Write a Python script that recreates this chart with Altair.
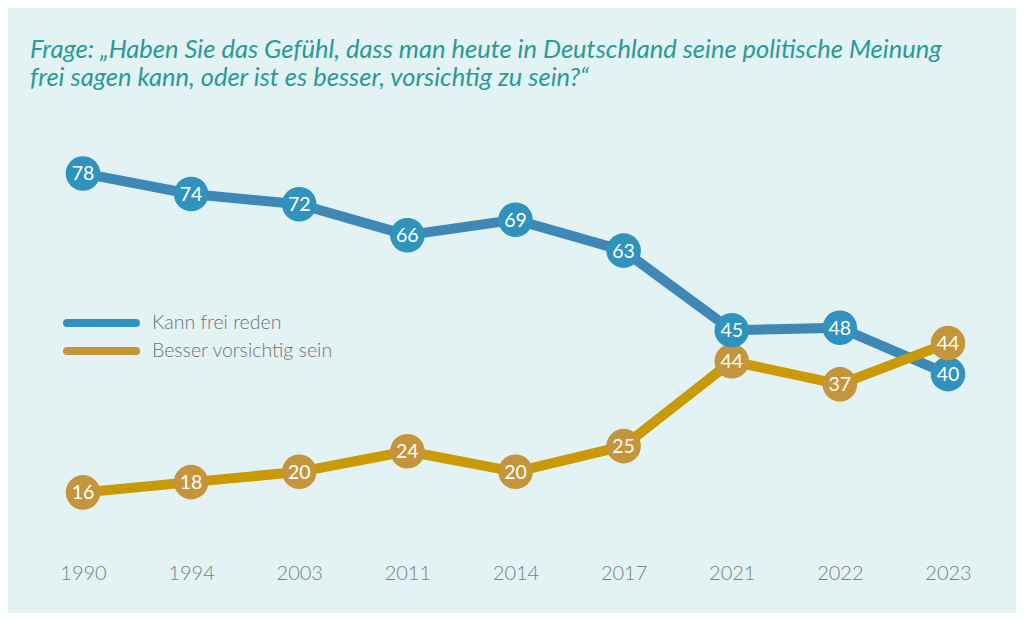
import altair as alt
import pandas as pd

years = ["1990", "1994", "2003", "2011", "2014", "2017", "2021", "2022", "2023"]
kann_frei = [78, 74, 72, 66, 69, 63, 45, 48, 40]
vorsichtig = [16, 18, 20, 24, 20, 25, 44, 37, 44]
series_names = ["Kann frei reden", "Besser vorsichtig sein"]
title_lines = [
    "Frage: „Haben Sie das Gefühl, dass man heute in Deutschland seine politische Meinung",
    "frei sagen kann, oder ist es besser, vorsichtig zu sein?“",
]

line_colors = ["#3f87b4", "#c99a06"]
dot_colors = ["#2f93bd", "#c4953a"]

# layout constants
Y_MIN, Y_MAX = 5, 81
H = 391
W = 865
px_per_unit = H / (Y_MAX - Y_MIN)
MIN_GAP_PX = 31  # minimum vertical gap between overlapping markers

rows = []
for i, yr in enumerate(years):
    a, b = kann_frei[i], vorsichtig[i]
    gap_px = abs(a - b) * px_per_unit
    shift = max(0.0, (MIN_GAP_PX - gap_px) / 2) / px_per_unit
    hi_a = a >= b
    da = a + (shift if hi_a else -shift)
    db = b + (-shift if hi_a else shift)
    rows.append({"year": yr, "series": series_names[0], "value": a, "disp": da})
    rows.append({"year": yr, "series": series_names[1], "value": b, "disp": db})
df = pd.DataFrame(rows)

x_enc = alt.X("year:N", sort=years, scale=alt.Scale(type="point", padding=0),
              axis=alt.Axis(title=None, labelAngle=0, domain=False, ticks=False, grid=False,
                            labelFont="Lato", labelFontSize=20, labelFontWeight=300,
                            labelColor="#7b8286", labelPadding=14))
y_enc = alt.Y("disp:Q", scale=alt.Scale(domain=[Y_MIN, Y_MAX], nice=False, zero=False), axis=None)

base = alt.Chart(df)

lines = base.mark_line(strokeWidth=10, strokeJoin="round", strokeCap="round").encode(
    x=x_enc, y=y_enc,
    color=alt.Color("series:N", scale=alt.Scale(domain=series_names, range=line_colors), legend=None),
    detail="series:N",
)

dots = base.mark_circle(size=1195, opacity=1).encode(
    x=x_enc, y=y_enc,
    color=alt.Color("series:N", scale=alt.Scale(domain=series_names, range=dot_colors), legend=None),
    order=alt.Order("disp:Q", sort="ascending"),
)

labels = base.mark_text(color="white", font="Lato", fontSize=19.5, fontWeight="normal",
                        baseline="middle", align="center", dy=1).encode(
    x=x_enc, y=y_enc, text="value:Q",
)

main = alt.layer(lines, dots, labels).resolve_scale(color="independent")

leg_df = pd.DataFrame({"series": series_names})
leg_y = alt.Y("series:N", scale=alt.Scale(type="point", domain=series_names, range=[165, 193], padding=0), axis=None)
leg_rule = alt.Chart(leg_df).mark_rule(strokeWidth=8, strokeCap="round").encode(
    x=alt.value(-16), x2=alt.value(53), y=leg_y,
    color=alt.Color("series:N", scale=alt.Scale(domain=series_names, range=dot_colors), legend=None),
)
leg_text = alt.Chart(leg_df).mark_text(align="left", baseline="middle", font="Lato", fontSize=19.5,
                                        fontWeight=300, color="#6f7578").encode(
    x=alt.value(69), y=leg_y, text="series:N",
)
legend = alt.layer(leg_rule, leg_text)

chart = alt.layer(main, legend).resolve_scale(y="independent", x="independent", color="independent").properties(
    width=W, height=H,
    autosize=alt.AutoSizeParams(type="none"),
    padding={"left": 75, "top": 150, "right": 68, "bottom": 64},
    background="#e3f2f3",
    title=alt.TitleParams(text=title_lines, anchor="start", frame="group", dx=-53, dy=0,
                          font="Lato", fontSize=25.5, fontStyle="italic", fontWeight="normal",
                          color="#2a9a97", lineHeight=28, baseline="top", offset=65),
).configure_view(stroke=None)

chart.save("out.html", embed_options={"renderer": "svg", "actions": False})
